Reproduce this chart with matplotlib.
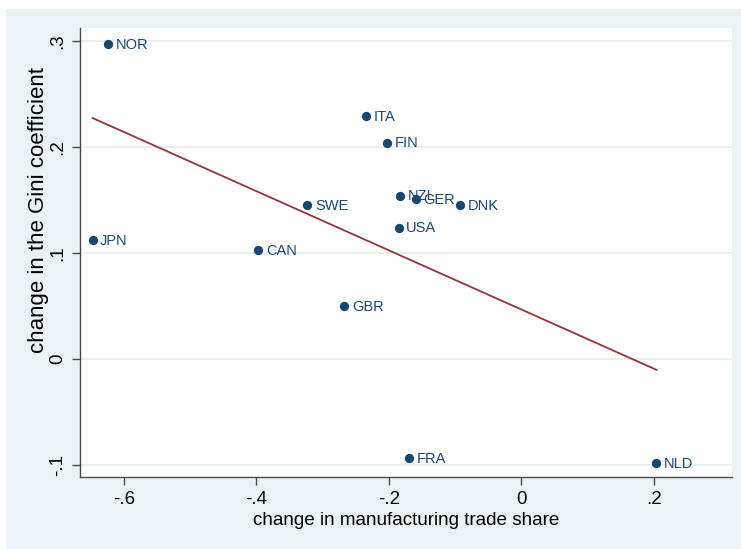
import numpy as np
import matplotlib.pyplot as plt
from matplotlib.patches import Rectangle

plt.rcParams['font.family'] = ['Liberation Sans', 'DejaVu Sans']

countries = ['NOR', 'JPN', 'ITA', 'FIN', 'NZL', 'GER', 'DNK', 'SWE', 'USA',
             'CAN', 'GBR', 'FRA', 'NLD']
trade_chg = [-0.624, -0.647, -0.234, -0.202, -0.183, -0.159, -0.092, -0.323,
             -0.185, -0.397, -0.267, -0.170, 0.204]
gini_chg = [0.297, 0.112, 0.229, 0.204, 0.154, 0.151, 0.145, 0.145,
            0.124, 0.103, 0.050, -0.093, -0.098]

xticks = [-0.6, -0.4, -0.2, 0, 0.2]
xticklabels = ['-.6', '-.4', '-.2', '0', '.2']
yticks = [-0.1, 0, 0.1, 0.2, 0.3]
yticklabels = ['-.1', '0', '.1', '.2', '.3']

navy = '#1a476f'
maroon = '#90353b'
bg = '#eaf2f3'

fig = plt.figure(figsize=(7.41, 5.49), dpi=100, facecolor='white')
fig.patches.append(Rectangle((6 / 741, 0), 1, 1 - 9 / 549, transform=fig.transFigure,
                             facecolor=bg, edgecolor='none', zorder=-10))

ax = fig.add_axes([80 / 741, 1 - 477 / 549, (732 - 80) / 741, (477 - 28) / 549])
ax.set_facecolor('white')

ax.scatter(trade_chg, gini_chg, s=45, color=navy, zorder=3, linewidths=0)
for name, x, y in zip(countries, trade_chg, gini_chg):
    ax.annotate(name, (x, y), xytext=(5.5, -0.5), textcoords='offset points',
                va='center', ha='left', fontsize=10.5, color=navy, zorder=4)

# linear fit
b, a = np.polyfit(trade_chg, gini_chg, 1)
xs = np.array([min(trade_chg), max(trade_chg)])
ax.plot(xs, a + b * xs, color=maroon, linewidth=1.3, zorder=2)

ax.set_xlim(-0.666, 0.318)
ax.set_ylim(-0.111, 0.312)
ax.set_xticks(xticks)
ax.set_xticklabels(xticklabels)
ax.set_yticks(yticks)
ax.set_yticklabels(yticklabels, rotation=90, va='center')
ax.grid(axis='y', color='#e3ecee', linewidth=1.2, zorder=0)
ax.set_axisbelow(True)

for side in ['top', 'right']:
    ax.spines[side].set_visible(False)
for side in ['left', 'bottom']:
    ax.spines[side].set_color('#4a4a4a')
    ax.spines[side].set_linewidth(1.0)
ax.tick_params(direction='out', length=6, width=1, color='#4a4a4a',
               labelsize=13.5, labelcolor='black', pad=4)

ax.set_xlabel('change in manufacturing trade share', fontsize=13.6, labelpad=3)
ax.set_ylabel('change in the Gini coefficient', fontsize=16)
ax.yaxis.set_label_coords(-31 / 652, 0.595)

fig.savefig('out.png', dpi=100, facecolor='white')
